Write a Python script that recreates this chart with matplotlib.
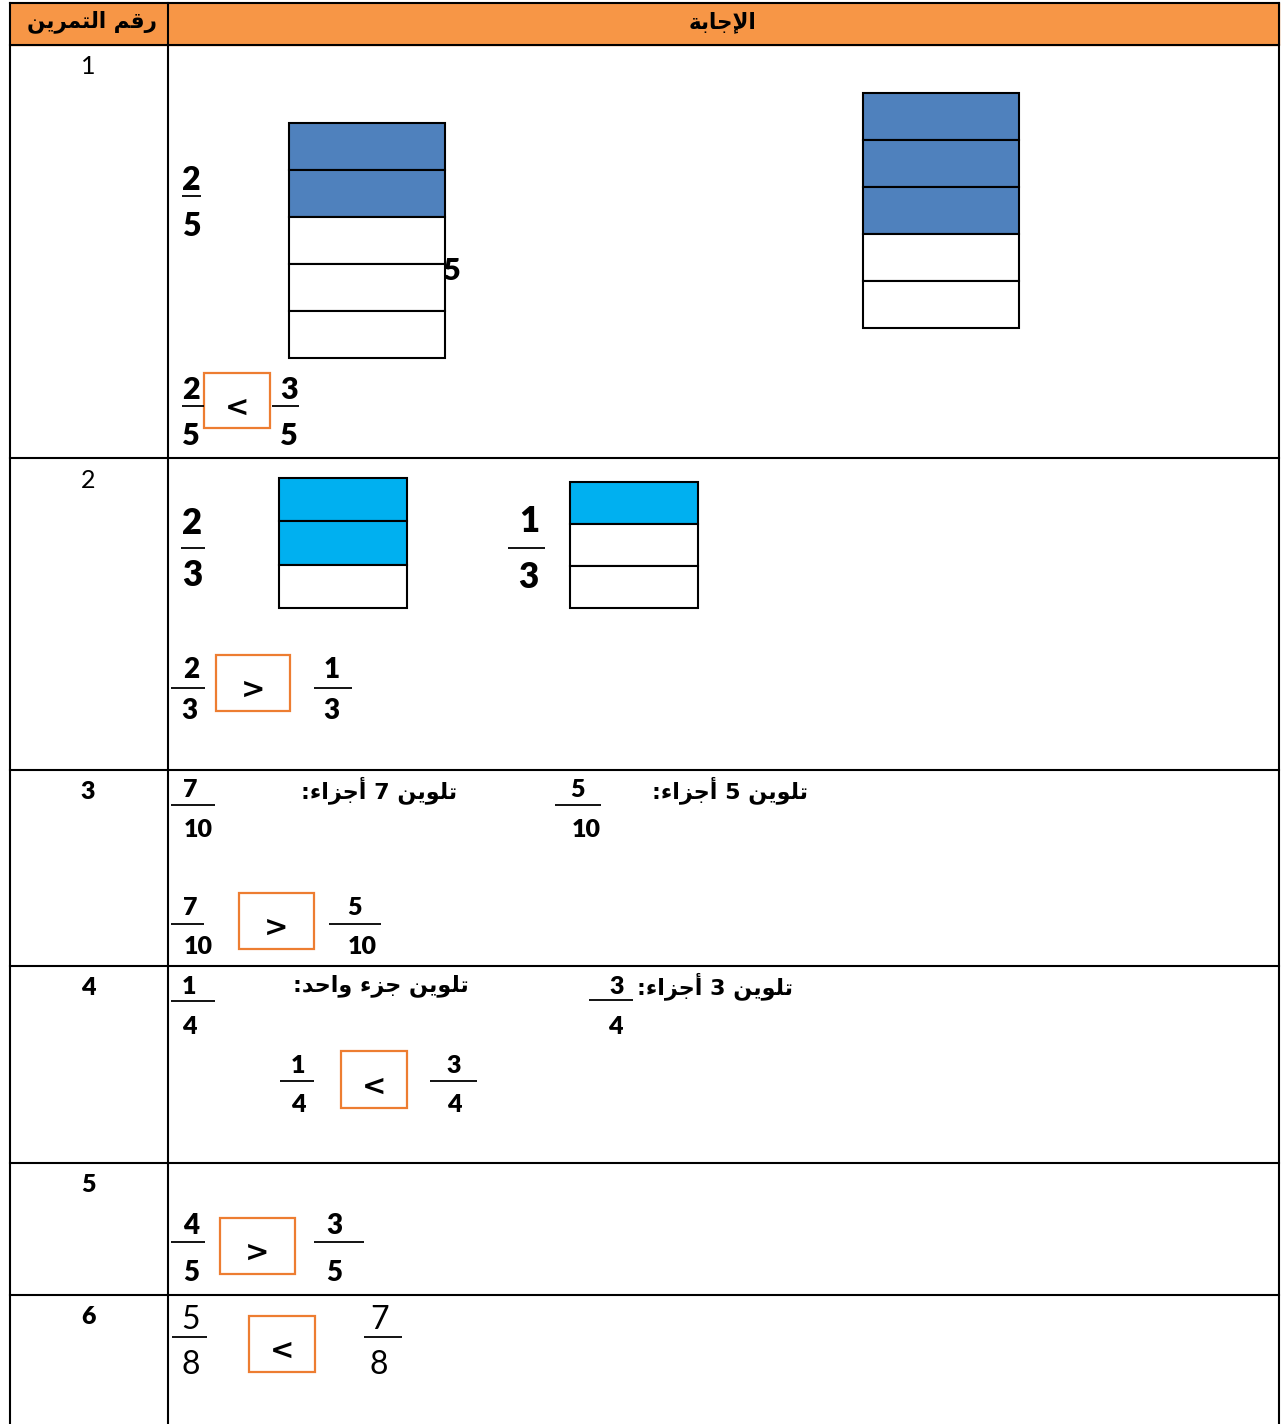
import matplotlib
matplotlib.use('Agg')
import matplotlib.pyplot as plt
from matplotlib.patches import Rectangle

# ---- data ----
header_right = 'رقم التمرين'
header_left = 'الإجابة'
row_numbers = ['1', '2', '3', '4', '5', '6']
row_bold = [False, False, True, True, True, True]

bar_parts = [5, 5, 3, 3]
bar_shaded = [2, 3, 2, 1]
bar_colors = ['#4F81BD', '#4F81BD', '#00B0F0', '#00B0F0']

label_fracs = [(2, 5), (2, 3), (1, 3), (7, 10), (5, 10), (1, 4), (3, 4)]
stray_text = '5'

instructions = ['تلوين 7 أجزاء:', 'تلوين 5 أجزاء:', 'تلوين جزء واحد:', 'تلوين 3 أجزاء:']

compare_left = [(2, 5), (2, 3), (7, 10), (1, 4), (4, 5), (5, 8)]
compare_right = [(3, 5), (1, 3), (5, 10), (3, 4), (3, 5), (7, 8)]
compare_signs = ['<', '>', '>', '<', '>', '<']

# ---- layout (pixels) ----
W, H = 1283, 1424
row_lines = [45, 458, 770, 966, 1163, 1295]
col_x = [10, 168, 1279]
bar_boxes = [(289, 445, 123, 358), (863, 1019, 93, 328), (279, 407, 478, 608), (570, 698, 482, 608)]
# num_x, den_x, line_x0, line_x1, num_y, line_y, den_y, size
label_pos = [(191, 191, 182, 201, 180, 196, 226, 23),
             (192, 192, 181, 205, 523, 548, 575, 25),
             (529, 528, 508, 545, 522, 548, 577, 25),
             (190, 198, 171, 215, 790, 805, 830, 18),
             (577, 586, 555, 601, 790, 805, 830, 18),
             (189, 189, 171, 215, 987, 1001, 1027, 18),
             (617, 615, 589, 633, 987, 1000, 1027, 18)]
instr_pos = [(457, 790), (808, 790), (469, 986), (793, 986)]
# left frac (nx, dx, lx0, lx1), box (x0, x1, y0, y1), right frac (nx, dx, lx0, lx1), ys (num, line, den), size, bold
compare_pos = [((191, 191, 182, 204), (204, 270, 373, 428), (289, 289, 272, 299), (390, 406, 436), 22, True),
               ((191, 189, 171, 205), (216, 290, 655, 711), (332, 331, 314, 352), (670, 688, 711), 20, True),
               ((190, 198, 171, 204), (239, 314, 893, 949), (354, 362, 329, 381), (908, 924, 947), 18, True),
               ((298, 298, 280, 314), (341, 407, 1051, 1108), (454, 454, 430, 477), (1066, 1081, 1105), 18, True),
               ((191, 191, 171, 205), (220, 295, 1218, 1274), (334, 334, 314, 364), (1226, 1242, 1273), 20, True),
               ((191, 191, 172, 207), (249, 315, 1316, 1372), (380, 379, 364, 402), (1320, 1337, 1365), 23, False)]

# ---- minimal arabic shaping (presentation forms, visual order) ----
BASE = {'ء': 0xFE80, 'أ': 0xFE83, 'إ': 0xFE87, 'ا': 0xFE8D, 'ب': 0xFE8F, 'ة': 0xFE93,
        'ت': 0xFE95, 'ج': 0xFE9D, 'ح': 0xFEA1, 'د': 0xFEA9, 'ر': 0xFEAD, 'ز': 0xFEAF,
        'ق': 0xFED5, 'ل': 0xFEDD, 'م': 0xFEE1, 'ن': 0xFEE5, 'و': 0xFEED, 'ي': 0xFEF1}
DUAL = set('بتجحقلمني')
LAMALEF = {'ا': 0xFEFB, 'أ': 0xFEF7, 'إ': 0xFEF9}


def shape(s):
    out = []
    i = 0
    while i < len(s):
        c = s[i]
        if c not in BASE:
            out.append(c)
            i += 1
            continue
        prev = s[i - 1] if i > 0 else None
        joins_prev = prev in DUAL and c != 'ء'
        if c == 'ل' and i + 1 < len(s) and s[i + 1] in LAMALEF:
            out.append(chr(LAMALEF[s[i + 1]] + (1 if joins_prev else 0)))
            i += 2
            continue
        nxt = s[i + 1] if i + 1 < len(s) else None
        joins_next = c in DUAL and nxt in BASE and nxt != 'ء'
        b = BASE[c]
        if c in DUAL:
            form = {(False, False): 0, (True, False): 1, (False, True): 2, (True, True): 3}[(joins_prev, joins_next)]
        elif c == 'ء':
            form = 0
        else:
            form = 1 if joins_prev else 0
        out.append(chr(b + form))
        i += 1
    return ''.join(reversed(out))


NUMFONT = ['Lato', 'DejaVu Sans']
SIGNFONT = ['DejaVu Sans']
ARFONT = ['DejaVu Sans']

fig = plt.figure(figsize=(W / 100, H / 100), dpi=100)
ax = fig.add_axes([0, 0, 1, 1])
ax.set_xlim(0, W)
ax.set_ylim(H, 0)
ax.axis('off')


def put(x, y, s, size, bold=True, ha='center', family=NUMFONT, weight='heavy'):
    ax.text(x, y, s, fontsize=size, fontweight=weight if bold else 'normal',
            ha=ha, va='center', family=family, color='black')


def frac(nx, dx, lx0, lx1, ny, ly, dy, num, den, size, bold=True):
    put(nx, ny, str(num), size, bold)
    put(dx, dy, str(den), size, bold)
    ax.plot([lx0, lx1], [ly, ly], color='black', lw=1.3, solid_capstyle='butt')


# header
ax.add_patch(Rectangle((col_x[0], 3), col_x[2] - col_x[0], row_lines[0] - 3, color='#F79646', zorder=0))
put(92, 22, shape(header_right), 15.5, family=ARFONT, weight='bold')
put(722, 22, shape(header_left), 15.5, family=ARFONT, weight='bold')

# grid
for y in [3] + row_lines:
    ax.plot([col_x[0], col_x[2]], [y, y], color='black', lw=1.5)
for x in col_x:
    ax.plot([x, x], [3, H], color='black', lw=1.5)

# row numbers
for top, num, b in zip(row_lines, row_numbers, row_bold):
    put(88, top + 22, num, 18, b)

# fraction bars
for (x0, x1, y0, y1), n, k, col in zip(bar_boxes, bar_parts, bar_shaded, bar_colors):
    h = (y1 - y0) / n
    for j in range(n):
        ax.add_patch(Rectangle((x0, y0 + j * h), x1 - x0, h,
                               facecolor=col if j < k else 'white', edgecolor='black', lw=1.5))
put(452, 271, stray_text, 22)

# labelled fractions
for (num, den), (nx, dx, lx0, lx1, ny, ly, dy, sz) in zip(label_fracs, label_pos):
    frac(nx, dx, lx0, lx1, ny, ly, dy, num, den, sz)

# instructions
for txt, (x, y) in zip(instructions, instr_pos):
    put(x, y, shape(txt), 16, ha='right', family=ARFONT, weight='bold')

# comparisons
for lf, rf, sign, (lp, bx, rp, ys, sz, b) in zip(compare_left, compare_right, compare_signs, compare_pos):
    frac(lp[0], lp[1], lp[2], lp[3], ys[0], ys[1], ys[2], lf[0], lf[1], sz, b)
    frac(rp[0], rp[1], rp[2], rp[3], ys[0], ys[1], ys[2], rf[0], rf[1], sz, b)
    ax.add_patch(Rectangle((bx[0], bx[2]), bx[1] - bx[0], bx[3] - bx[2],
                           facecolor='none', edgecolor='#ED7D31', lw=1.6))
    put((bx[0] + bx[1]) / 2, (bx[2] + bx[3]) / 2 + 7, sign, 21, True, family=SIGNFONT, weight='bold')

fig.savefig('out.png', dpi=100)
